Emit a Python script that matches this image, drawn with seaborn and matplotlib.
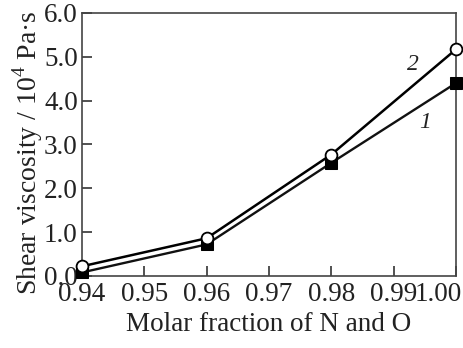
import numpy as np
import pandas as pd
import seaborn as sns
import matplotlib.pyplot as plt
import matplotlib.transforms as mtransforms

# molar fraction of N and O
fraction = [0.94, 0.96, 0.98, 1.00]
# shear viscosity, 10^4 Pa*s
visc_1 = [0.08, 0.72, 2.58, 4.40]
visc_2 = [0.22, 0.86, 2.77, 5.17]

x_ticks = [0.94, 0.95, 0.96, 0.97, 0.98, 0.99, 1.00]
x_labels = ['0.94', '0.95', '0.96', '0.97', '0.98', '0.99', '1.00']
y_ticks = [0, 1, 2, 3, 4, 5, 6]
y_labels = ['0.0', '1.0', '2.0', '3.0', '4.0', '5.0', '6.0']

sns.set_theme(style='white')
plt.rcParams['font.family'] = ['Liberation Serif', 'DejaVu Serif']
plt.rcParams['mathtext.fontset'] = 'custom'
plt.rcParams['mathtext.rm'] = 'Liberation Serif'

df1 = pd.DataFrame({'x': fraction, 'y': visc_1})
df2 = pd.DataFrame({'x': fraction, 'y': visc_2})

fig = plt.figure(figsize=(4.63, 3.48), dpi=100)
ax = fig.add_axes([0.177, 0.207, 0.808, 0.756])

sns.lineplot(data=df1, x='x', y='y', ax=ax, color='#111111', lw=1.7,
             marker='s', markersize=8, markerfacecolor='black',
             markeredgecolor='black', clip_on=False, zorder=3)
sns.lineplot(data=df2, x='x', y='y', ax=ax, color='black', lw=1.8,
             marker='o', markersize=8.5, markerfacecolor='white',
             markeredgecolor='black', markeredgewidth=1.3,
             clip_on=False, zorder=4)

ax.text(0.9931, 4.82, '2', fontsize=17, style='italic', ha='center', va='center', color='#222222')
ax.text(0.9951, 3.49, '1', fontsize=17, style='italic', ha='center', va='center', color='#222222')

ax.set_xlim(0.94, 1.00)
ax.set_ylim(0, 6)
ax.set_xticks(x_ticks)
ax.set_xticklabels(x_labels)
ax.set_yticks(y_ticks)
ax.set_yticklabels(y_labels)
ax.tick_params(direction='in', length=7, width=1.2, colors='#333333',
               labelsize=19.5, labelcolor='#222222', bottom=True, left=True)
ax.tick_params(axis='x', pad=4)
ax.tick_params(axis='y', pad=3)
last = ax.get_xticklabels()[-1]
last.set_horizontalalignment('right')
last.set_transform(last.get_transform() + mtransforms.ScaledTranslation(4 / 72, 0, fig.dpi_scale_trans))
for s in ax.spines.values():
    s.set_color('#444444')
    s.set_linewidth(1.2)

ax.set_xlabel('Molar fraction of N and O', fontsize=19.5, color='#222222', labelpad=4)
ax.set_ylabel('Shear viscosity / 10$^4$ Pa·s', fontsize=20, color='#222222')
ax.yaxis.set_label_coords(-0.1, 0.47)

fig.savefig('out.png', dpi=100)
